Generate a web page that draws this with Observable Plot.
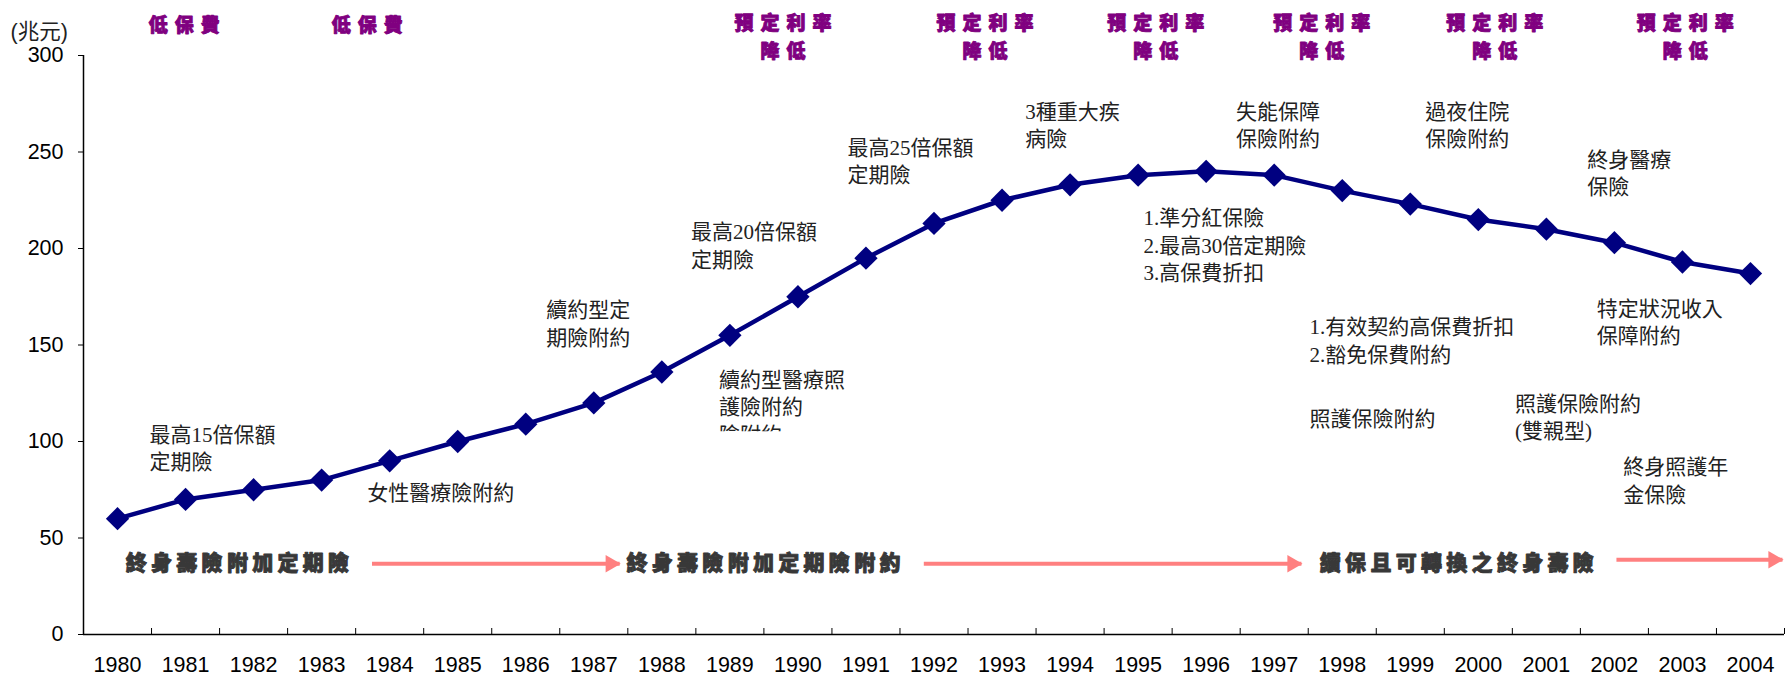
<!DOCTYPE html>
<html><head><meta charset="utf-8">
<script src="https://cdn.jsdelivr.net/npm/d3@7"></script>
<script src="https://cdn.jsdelivr.net/npm/@observablehq/plot@0.6"></script>
<style>
html,body{margin:0;padding:0;background:#fff;}
#chart{width:1788px;height:676px;overflow:hidden;}
</style></head><body><div id="chart"></div>
<script>
// ---- data ----
const years = [1980,1981,1982,1983,1984,1985,1986,1987,1988,1989,1990,1991,1992,1993,1994,1995,1996,1997,1998,1999,2000,2001,2002,2003,2004];
const amounts = [60,70,75,80,90,100,109,120,136,155,175,195,213,225,233,238,240,238,230,223,215,210,203,193,187];
const yTicks = [0,50,100,150,200,250,300];
const yUnit = "(兆元)";

// purple headline events (anchored in year / value units)
const eventText = ["低保費","低保費","預定利率\n降低","預定利率\n降低","預定利率\n降低","預定利率\n降低","預定利率\n降低","預定利率\n降低"];
const eventYear = [1980.98,1983.67,1989.78,1992.75,1995.26,1997.70,2000.24,2003.04];
const eventLevel = [317,317,310.6,310.6,310.6,310.6,310.6,310.6];

// product notes
const noteText = [
  "最高15倍保額\n定期險",
  "女性醫療險附約",
  "續約型定\n期險附約",
  "最高20倍保額\n定期險",
  "最高25倍保額\n定期險",
  "3種重大疾\n病險",
  "1.準分紅保險\n2.最高30倍定期險\n3.高保費折扣",
  "失能保障\n保險附約",
  "1.有效契約高保費折扣\n2.豁免保費附約",
  "照護保險附約",
  "過夜住院\n保險附約",
  "照護保險附約\n(雙親型)",
  "終身醫療\n保險",
  "特定狀況收入\n保障附約",
  "終身照護年\n金保險"
];
const noteYear = [1980.47,1983.67,1986.30,1988.43,1990.73,1993.34,1995.08,1996.44,1997.52,1997.52,1999.22,2000.54,2001.60,2001.74,2002.13];
const noteLevel = [97.1,74.3,161.8,202.2,246.1,264.5,202.4,264.5,153.0,112.6,264.5,113.5,239.6,162.4,80.4];

// the note whose text box is cut off in the original
const cutNoteText = ["續約型醫療照\n護險附約\n險附約"];
const cutNoteYear = [1988.84];
const cutNoteLevel = [118.65];
const cutNoteClipLevel = 105.3;

// product-stage bands with arrows
const stageText = ["終身壽險附加定期險","終身壽險附加定期險附約","續保且可轉換之終身壽險"];
const stageYear = [1980.12,1987.48,1997.67];
const stageLevel = [37,37,37];
const arrowFrom = [1983.74,1991.85,2002.03];
const arrowTo = [1987.38,1997.40,2004.47];
const arrowLevel = [36.6,36.6,38.7];

// ---- helpers ----
const SVGNS = "http://www.w3.org/2000/svg";
const spaced = ls => (index, scales, values, dims, ctx, next) => {
  const g = next(index, scales, values, dims, ctx);
  g.setAttribute("letter-spacing", ls);
  return g;
};
const clipBelow = level => (index, scales, values, dims, ctx, next) => {
  const g = next(index, scales, values, dims, ctx);
  const cp = document.createElementNS(SVGNS, "clipPath");
  cp.setAttribute("id", "cut-note-clip");
  const r = document.createElementNS(SVGNS, "rect");
  r.setAttribute("x", 0); r.setAttribute("y", 0);
  r.setAttribute("width", dims.width); r.setAttribute("height", scales.y(level));
  cp.appendChild(r);
  const outer = document.createElementNS(SVGNS, "g");
  outer.appendChild(cp);
  g.setAttribute("clip-path", "url(#cut-note-clip)");
  outer.appendChild(g);
  return outer;
};

const sans = "'Liberation Sans', Arial, sans-serif";
const noteFont = "'Liberation Serif', 'Noto Sans CJK TC', serif";
const boldCJK = "'Noto Sans CJK TC', sans-serif";

const halfYears = years.map(y => y + 0.5);

const chart = Plot.plot({
  width: 1788,
  height: 676,
  marginTop: 55,
  marginBottom: 42,
  marginLeft: 83,
  marginRight: 4,
  x: {domain: [1979.5, 2004.5]},
  y: {domain: [0, 300]},
  style: {background: "white", color: "black", fontFamily: sans},
  marks: [
    Plot.axisY({ticks: yTicks, tickSize: 5, tickPadding: 15, fontSize: 21.5, label: null, tickFormat: d => String(d)}),
    Plot.axisX({ticks: years, tickSize: 0, tickPadding: 22, fontSize: 21.5, label: null, tickFormat: d => String(d)}),
    Plot.axisX({ticks: halfYears, tickSize: -6, label: null, tickFormat: () => ""}),
    Plot.ruleY([0], {stroke: "black", strokeWidth: 1.5}),
    Plot.ruleX([1979.5], {stroke: "black", strokeWidth: 1.5}),
    Plot.text([yUnit], {text: d => d, frameAnchor: "top-left", dx: -73, dy: -32, textAnchor: "start", fontSize: 21.5, fontFamily: "'Liberation Sans', 'Noto Sans CJK TC', sans-serif", fill: "#222"}),
    // stage arrows
    Plot.link(arrowFrom, {x1: arrowFrom, x2: arrowTo, y1: arrowLevel, y2: arrowLevel, stroke: "#ff8080", strokeWidth: 4}),
    Plot.dot(arrowTo, {x: arrowTo, y: arrowLevel, symbol: "triangle", rotate: 90, r: 6.5, fill: "#ff8080", stroke: "none", dx: -9}),
    Plot.text(stageText, {x: stageYear, y: stageLevel, text: d => d, textAnchor: "start", fontSize: 21, fontWeight: 900, fontFamily: boldCJK, fill: "#383838", stroke: "#383838", strokeWidth: 0.9, render: spaced(4.3)}),
    // series
    Plot.line(amounts, {x: years, y: amounts, stroke: "#000080", strokeWidth: 4.5}),
    Plot.dot(amounts, {x: years, y: amounts, symbol: "diamond2", r: 10.5, fill: "#000080", stroke: "none"}),
    // notes
    Plot.text(noteText, {x: noteYear, y: noteLevel, text: d => d, textAnchor: "start", lineAnchor: "middle", lineHeight: 1.3, fontSize: 21, fontFamily: noteFont, fill: "#222"}),
    Plot.text(cutNoteText, {x: cutNoteYear, y: cutNoteLevel, text: d => d, textAnchor: "start", lineAnchor: "middle", lineHeight: 1.3, fontSize: 21, fontFamily: noteFont, fill: "#222", render: clipBelow(cutNoteClipLevel)}),
    // purple events
    Plot.text(eventText, {x: eventYear, y: eventLevel, text: d => d, textAnchor: "middle", lineAnchor: "middle", lineHeight: 1.45, dx: 3.5, fontSize: 19, fontWeight: 900, fontFamily: boldCJK, fill: "#800080", stroke: "#800080", strokeWidth: 0.9, render: spaced(7)})
  ]
});
document.getElementById("chart").appendChild(chart);
</script>
</body></html>
